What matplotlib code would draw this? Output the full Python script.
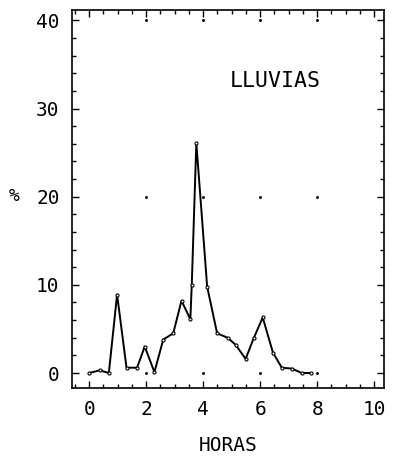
import matplotlib
matplotlib.use("Agg")
import matplotlib.pyplot as plt
from matplotlib.ticker import MultipleLocator
import numpy as np

# rainfall distribution by hour
horas = [0.0, 0.37, 0.69, 0.98, 1.31, 1.68, 1.95, 2.29, 2.60, 2.95, 3.24,
         3.55, 3.60, 3.76, 4.14, 4.49, 4.86, 5.14, 5.49, 5.78, 6.09, 6.45,
         6.76, 7.11, 7.46, 7.77]
pct = [0.0, 0.3, 0.0, 8.9, 0.6, 0.6, 3.0, 0.1, 3.8, 4.5, 8.2,
       6.1, 10.0, 26.1, 9.8, 4.5, 4.0, 3.2, 1.6, 4.0, 6.3, 2.3,
       0.6, 0.5, 0.0, 0.0]
xticks = [0, 2, 4, 6, 8, 10]
yticks = [0, 10, 20, 30, 40]

plt.rcParams['font.family'] = ['DejaVu Sans Mono']

fig = plt.figure(figsize=(3.96, 4.72), dpi=100)
ax = fig.add_axes([0.182, 0.178, 0.788, 0.801])

ax.plot(horas, pct, color='black', linewidth=1.4, marker='o',
        markersize=2.2, markerfacecolor='white', markeredgecolor='black',
        markeredgewidth=0.8)

# dotted grid: one dot at each major intersection
gx, gy = np.meshgrid(xticks[1:-1], [yticks[0], yticks[2], yticks[4]])
ax.scatter(gx.ravel(), gy.ravel(), s=1.2, color='black', zorder=1)

ax.set_xlim(-0.6, 10.35)
ax.set_ylim(-1.7, 41.2)
ax.set_xticks(xticks)
ax.set_yticks(yticks)
ax.xaxis.set_minor_locator(MultipleLocator(0.5))
ax.yaxis.set_minor_locator(MultipleLocator(2))
ax.tick_params(which='both', direction='in', top=True, right=True,
               width=1.0, labelsize=14)
ax.tick_params(which='major', length=5, pad=9)
ax.tick_params(which='minor', length=3)
for s in ax.spines.values():
    s.set_linewidth(1.2)

ax.set_xlabel('HORAS', fontsize=14, labelpad=12)
fig.text(0.035, 0.585, '%', fontsize=13, ha='center', va='center')
ax.text(0.505, 0.795, 'LLUVIAS', transform=ax.transAxes, fontsize=15.5)

fig.savefig('out.png', dpi=100)
